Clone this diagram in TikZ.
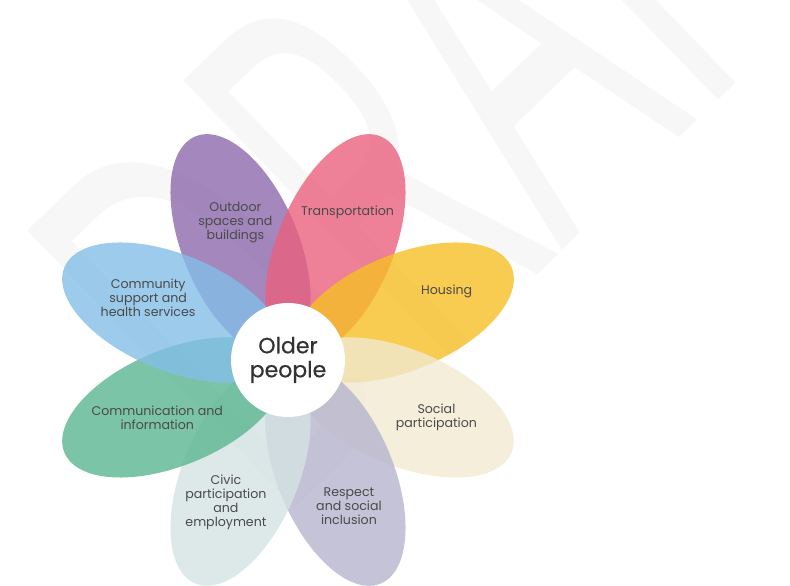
\documentclass[tikz,border=0pt]{standalone}
\usepackage{fontspec}
\setmainfont{Poppins}
\newfontfamily\wmfont{Open Sans}
\newfontfamily\hubfont[FakeBold=0.5]{Poppins}
\usetikzlibrary{shapes.geometric}
\definecolor{outdoorcol}{RGB}{140,105,172}
\definecolor{transportcol}{RGB}{234,96,126}
\definecolor{housingcol}{RGB}{246,191,36}
\definecolor{socialcol}{RGB}{241,234,210}
\definecolor{respectcol}{RGB}{182,180,206}
\definecolor{civiccol}{RGB}{212,227,226}
\definecolor{commcol}{RGB}{91,181,146}
\definecolor{communitycol}{RGB}{131,190,231}
\definecolor{textgray}{RGB}{74,74,74}
\definecolor{hubgray}{RGB}{50,50,50}
\tikzstyle{petal} = [ellipse, minimum width=236pt, minimum height=116pt, inner sep=0pt, draw=none, fill opacity=0.8]
\tikzstyle{petaltext} = [align=center, text=textgray, font=\fontsize{12.6}{14}\selectfont]
\tikzstyle{hub} = [circle, fill=white, minimum size=114pt, inner sep=0pt, align=center, text=hubgray, font=\hubfont\fontsize{22}{24}\selectfont]
\tikzstyle{watermark} = [anchor=base west, text=black!3, rotate=44, xscale=0.55, font=\wmfont\fontsize{540}{540}\selectfont]

\begin{document}
\begin{tikzpicture}[x=1pt, y=1pt]
    \useasboundingbox (0,0) rectangle (790,586);
    % Watermark
    \node (draft) [watermark] at (273,56) {DRAFT};

    % Petals
    \coordinate (mid) at (288,226);
    \node (pOutdoor) [petal, fill=outdoorcol, rotate=112.5] at ([shift={(112.5:124)}]mid) {};
    \node (pTransport) [petal, fill=transportcol, rotate=67.5] at ([shift={(67.5:124)}]mid) {};
    \node (pHousing) [petal, fill=housingcol, rotate=22.5] at ([shift={(22.5:124)}]mid) {};
    \node (pSocial) [petal, fill=socialcol, rotate=-22.5] at ([shift={(-22.5:124)}]mid) {};
    \node (pRespect) [petal, fill=respectcol, rotate=-67.5] at ([shift={(-67.5:124)}]mid) {};
    \node (pCivic) [petal, fill=civiccol, rotate=-112.5] at ([shift={(-112.5:124)}]mid) {};
    \node (pComm) [petal, fill=commcol, rotate=-157.5] at ([shift={(-157.5:124)}]mid) {};
    \node (pCommunity) [petal, fill=communitycol, rotate=157.5] at ([shift={(157.5:124)}]mid) {};

    % Centre
    \node (older) [hub] at (mid) {Older\\people};

    % Texts
    \node (outdoor) [petaltext] at ([shift={(111:147)}]mid) {Outdoor\\spaces and\\buildings};
    \node (transport) [petaltext] at ([shift={(68:159)}]mid) {Transportation};
    \node (housing) [petaltext] at ([shift={(23.5:173)}]mid) {Housing};
    \node (social) [petaltext] at ([shift={(-21:159)}]mid) {Social\\participation};
    \node (respect) [petaltext] at ([shift={(-67.3:158)}]mid) {Respect\\and social\\inclusion};
    \node (civic) [petaltext] at ([shift={(-113.6:155)}]mid) {Civic\\participation\\and\\employment};
    \node (comm) [petaltext] at ([shift={(-156.1:143)}]mid) {Communication and\\information};
    \node (community) [petaltext] at ([shift={(156.1:153)}]mid) {Community\\support and\\health services};
\end{tikzpicture}
\end{document}
